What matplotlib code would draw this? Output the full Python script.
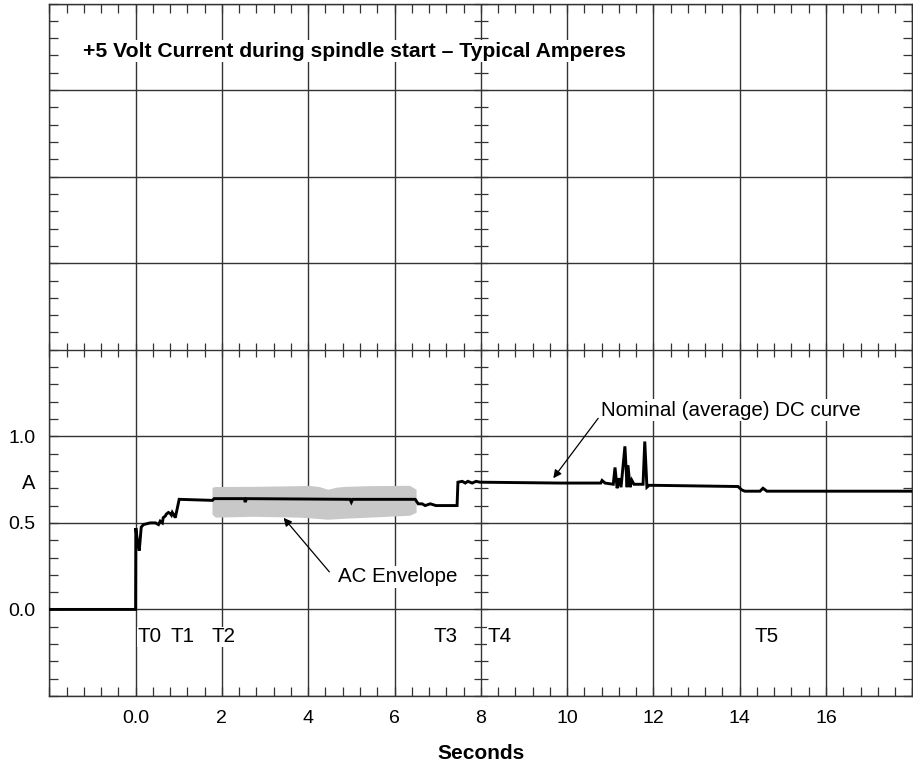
import numpy as np
import matplotlib
matplotlib.use('Agg')
import matplotlib.pyplot as plt
from matplotlib.ticker import MultipleLocator

plt.rcParams['font.family'] = ['Liberation Sans', 'DejaVu Sans']

# nominal (average) DC current
t = [-2.0, 0.0, 0.005, 0.04, 0.085, 0.13, 0.18, 0.34, 0.46, 0.53, 0.57, 0.62,
     0.64, 0.69, 0.71, 0.76, 0.80, 0.83, 0.85, 0.90, 0.92, 1.01, 1.78, 1.82,
     2.52, 2.54, 2.57, 4.97, 5.0, 5.03, 6.48, 6.55, 6.64, 6.71, 6.83, 6.96,
     7.45, 7.47, 7.57, 7.64, 7.70, 7.80, 7.89, 7.98, 9.83, 10.78, 10.81, 10.88,
     11.07, 11.11, 11.16, 11.2, 11.25, 11.34, 11.39, 11.41, 11.46, 11.5, 11.55,
     11.76, 11.80, 11.85, 11.90, 11.99, 13.96, 14.05, 14.12, 14.47, 14.54,
     14.63, 18.0]
amps = [0.0, 0.0, 0.47, 0.40, 0.34, 0.475, 0.49, 0.50, 0.50, 0.49, 0.51, 0.50,
        0.53, 0.54, 0.55, 0.56, 0.555, 0.545, 0.56, 0.54, 0.53, 0.636, 0.63, 0.64,
        0.64, 0.62, 0.64, 0.636, 0.62, 0.636, 0.636, 0.61, 0.61, 0.60, 0.61, 0.60,
        0.60, 0.735, 0.74, 0.73, 0.74, 0.73, 0.74, 0.735, 0.73, 0.73, 0.745, 0.73,
        0.723, 0.82, 0.70, 0.758, 0.706, 0.942, 0.706, 0.833, 0.706, 0.746, 0.723,
        0.723, 0.97, 0.706, 0.717, 0.717, 0.71, 0.69, 0.683, 0.683, 0.70,
        0.683, 0.683]

# AC envelope band
env_t = [1.77, 1.85, 2.7, 3.8, 4.0, 4.25, 4.45, 4.65, 4.85, 5.4, 6.35, 6.5]
env_hi = [0.706, 0.71, 0.711, 0.715, 0.717, 0.71, 0.694, 0.706, 0.711, 0.715, 0.717, 0.694]
env_lo = [0.55, 0.533, 0.538, 0.533, 0.53, 0.525, 0.521, 0.524, 0.527, 0.533, 0.544, 0.561]

t_labels = ['T0', 'T1', 'T2', 'T3', 'T4', 'T5']
t_label_x = [0.046, 0.80, 1.75, 6.90, 8.15, 14.35]

x_ticks = [-2, 0, 2, 4, 6, 8, 10, 12, 14, 16, 18]
x_ticklabels = ['', '0.0', '2', '4', '6', '8', '10', '12', '14', '16', '']
y_ticks = [-0.5, 0.0, 0.5, 1.0, 1.5, 2.0, 2.5, 3.0, 3.5]
y_ticklabels = ['', '0.0', '0.5', '1.0', '', '', '', '', '']

line_col = '#333333'
fs = 14.8

fig = plt.figure(figsize=(9.13, 7.64), dpi=100)
ax = fig.add_axes([49.3 / 913, 68 / 764, 863 / 913, 692.5 / 764])
ax.set_xlim(-2, 18)
ax.set_ylim(-0.5, 3.5)

ax.set_xticks(x_ticks)
ax.set_xticklabels(x_ticklabels, fontsize=14)
ax.set_yticks(y_ticks)
ax.set_yticklabels(y_ticklabels, fontsize=14)
ax.xaxis.set_minor_locator(MultipleLocator(0.4))
ax.yaxis.set_minor_locator(MultipleLocator(0.1))
ax.tick_params(which='both', direction='in', top=True, right=True,
               length=6.5, width=0.9, color=line_col)
ax.tick_params(which='major', pad=10)
ax.grid(True, which='major', color=line_col, lw=1.0)
for s in ax.spines.values():
    s.set_color(line_col)
    s.set_linewidth(1.0)

# crosshair ticks on the centre lines (scope graticule)
cx = np.arange(-2, 18.01, 0.4)
cy = np.arange(-0.5, 3.51, 0.1)
ax.plot(cx, np.full(cx.shape, 1.5), ls='none', marker='|', ms=10,
        mew=0.9, color=line_col, clip_on=False, zorder=2)
ax.plot(np.full(cy.shape, 8.0), cy, ls='none', marker='_', ms=10,
        mew=0.9, color=line_col, clip_on=False, zorder=2)

ax.fill_between(env_t, env_lo, env_hi, color='#c8c8c8', lw=0, zorder=3)
ax.plot(t, amps, color='black', lw=2.1, zorder=4, solid_joinstyle='miter')

box = dict(facecolor='white', edgecolor='none', pad=1.0)
ax.text(-1.21, 3.225, '+5 Volt Current during spindle start \u2013 Typical Amperes',
        fontsize=15.2, fontweight='bold', va='center', ha='left', bbox=box, zorder=5)
small_box = dict(facecolor='white', edgecolor='none', pad=0.3)
for lab, xx in zip(t_labels, t_label_x):
    ax.text(xx, -0.158, lab, fontsize=fs, va='center', ha='left',
            bbox=small_box, zorder=5)

ax.text(10.79, 1.15, 'Nominal (average) DC curve', fontsize=fs,
        va='center', ha='left', bbox=box, zorder=5)
ax.annotate('', xy=(9.68, 0.758), xytext=(10.72, 1.104),
            arrowprops=dict(arrowstyle='-|>', color='black', lw=0.9,
                            mutation_scale=12, shrinkA=0, shrinkB=0), zorder=6)
ax.text(4.70, 0.188, 'AC Envelope', fontsize=fs, va='center', ha='left',
        bbox=box, zorder=5)
ax.annotate('', xy=(3.43, 0.529), xytext=(4.49, 0.217),
            arrowprops=dict(arrowstyle='-|>', color='black', lw=0.9,
                            mutation_scale=12, shrinkA=0, shrinkB=0), zorder=6)

ax.annotate('A', xy=(0, 0.73), xycoords=('axes fraction', 'data'),
            xytext=(-14, 0), textcoords='offset pixels',
            ha='right', va='center', fontsize=14.5)
ax.set_xlabel('Seconds', fontsize=15, fontweight='bold', labelpad=12)

fig.savefig('out.png', dpi=100)
